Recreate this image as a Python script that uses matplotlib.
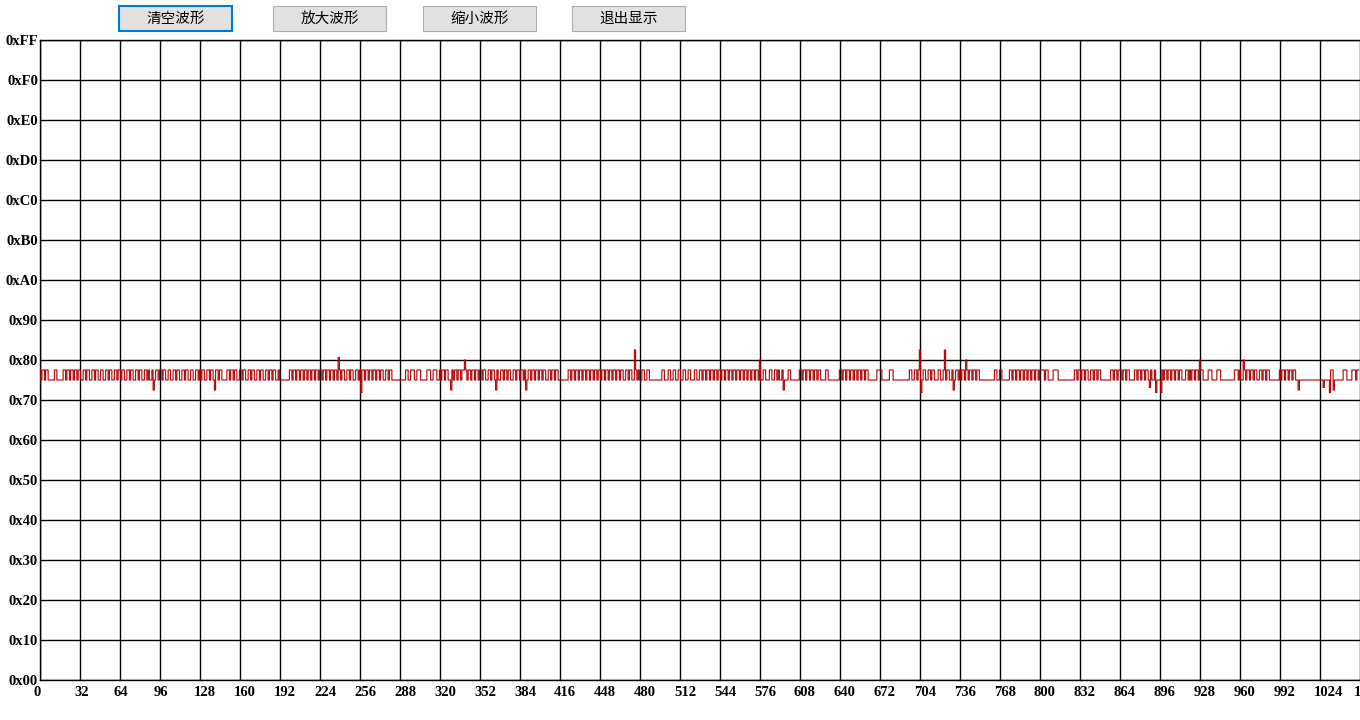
import matplotlib
matplotlib.use("Agg")
import matplotlib.pyplot as plt
import matplotlib.patches as mpatches
from matplotlib.font_manager import FontProperties
from matplotlib.transforms import ScaledTranslation
import numpy as np

plt.rcParams['font.family'] = ['Noto Sans CJK SC', 'DejaVu Sans']

# ---------------- data ----------------
BUTTONS = ["清空波形", "放大波形", "缩小波形", "退出显示"]

X_TICKS = list(range(0, 1057, 32))
X_LABELS = [str(v) for v in X_TICKS]
Y_TICKS = list(range(0, 256, 16)) + [256]
Y_LABELS = ["0x%02X" % v for v in range(0, 256, 16)] + ["0xFF"]

# waveform level codes (byte values)
LEVELS = {"H": 124, "L": 120}

# waveform samples, one string per 32-sample grid cell
WAVE_CELLS = [
    "HLHHLHHL LLLLHHLL LLLHHLHH LHHLHHLH",
    "HLLHHLHH LLHHLHHL LHHLLHHL HHLLHHLH",
    "HLHHLLHH LHHLLHHL HHLLHHLH LLHHLHHL",
    "HHLHHLLH HLLHHLHH LLHHLHHL LHHLLHHL",
    "HLHHLLHH LHHLLHHL HHLLLLHH LHHLHHLL",
    "HHLHHLLH HLHHLLHH LHHLLHHL HHLHHLLH",
    "LLLLLLLL HHLHHLHH LHHLHHLH HLHHLHHL",
    "HHLHHLHH LHHLHHLH HLHHLLHH LHHLLHHL",
    "HLHHLHHL HHLHHLHH LHHLLHHL HHLLLLLL",
    "LLLLLHHL LHHHLLHH HLLLLLHH HLLHHHLL",
    "HLHHLHHL LHHLHHLH HLHHHHLH HLHHLHHL",
    "HHLHHLLH HLHHLHHL LHHLHHLH HLLHHLHH",
    "LHHLHHLH HLHHLHHL HHLHHLLH HLHHLHHL",
    "LLLLLLLH HLHHLHHL HHLHHLHH LHHLHHLH",
    "HLHHLHHL HHLHHLHH LHHLLHHL HHLLHHLH",
    "LLHHLLHH LLLLLLLL LLHHLLLH HLLHHLLH",
    "HLLHHLLH HLLLHHLL HHLHHLHH LHHLHHLH",
    "HLHHLHHL HHLHHLHH LHHLHHLH HLHHLHHL",
    "HLLHHLLL HHLLHHLH LLHHLLLH HLLLLLLL",
    "HHLHHLHH LHHLHHLH HLLLLHHL LLLLLLLL",
    "HHLHHLHH LHHLHHLH HLHHLHHL LLLLLLHH",
    "HHLLLLLL HHHLLLLL LLLLLLLL HHLLHHLH",
    "HLLHHLLH HLHHLLLH HLLHHLHH LLHLLHHL",
    "HLHHLHHL HHLHHLHH LLLLLLLL LLLLHHLL",
    "HHLLLLLL HHLHHLHH LHHLHHLH HLHHLHHL",
    "HHHHLHHL LLLHHHHL LLLLLLLL LLLLHHLH",
    "HLHHLHHL LHHLHHLH HLLLLLLL LHHLHHLH",
    "HHLHHLHH LLLLHHLH HLHHLHHL HHLLHHLL",
    "LHHLHHLH HLHHLHHL HHLLLHHL HLHHLHHL",
    "HHHLLLLH HHLLLLHH HLLLLLLL LLLLHHHL",
    "HLLHHLHH LHHLHHLL HHLHHLHH LLLLLLLL",
    "HLHHLHHL HHLHHLLL LLLLLLLL LLLLLLLL",
    "LLLLLLLL LHHLLLLL LLLHHHLL LLHHHLHH",
]

# isolated spikes: sample index and byte value
SPIKE_IDX = [91, 140, 239, 257, 329, 340, 365, 389, 476, 576, 595, 704, 705,
             724, 731, 741, 888, 893, 897, 928, 963, 1007, 1027, 1032, 1035]
SPIKE_VAL = [116, 116, 129, 115, 116, 128, 116, 116, 132, 128, 116, 132, 115,
             132, 116, 128, 117, 115, 115, 128, 128, 116, 117, 115, 116]

# ---------------- build series ----------------
codes = "".join(c.replace(" ", "") for c in WAVE_CELLS)
values = np.array([LEVELS[c] for c in codes], dtype=float)
for i, v in zip(SPIKE_IDX, SPIKE_VAL):
    if i < len(values):
        values[i] = v
samples = np.arange(len(values))

# ---------------- figure ----------------
W, H = 1360, 720
fig = plt.figure(figsize=(W / 100, H / 100), dpi=100)
fig.patch.set_facecolor("white")

ax = fig.add_axes([40 / W, 40 / H, 1320 / W, 640 / H])
ax.set_xlim(0, 1056)
ax.set_ylim(0, 256)

ax.plot(samples, values, color="#a80000", lw=0.8, drawstyle="steps-mid",
        zorder=3)

ax.set_xticks(X_TICKS)
ax.set_xticklabels(X_LABELS)
ax.set_yticks(Y_TICKS)
ax.set_yticklabels(Y_LABELS)
ax.grid(True, color="black", lw=1.0, zorder=1)
ax.set_axisbelow(True)

ax.spines["right"].set_visible(False)
for s in ["left", "bottom", "top"]:
    ax.spines[s].set_color("black")
    ax.spines[s].set_linewidth(1.0)

ax.tick_params(axis="both", length=0)
ax.tick_params(axis="x", pad=4.5)
ax.tick_params(axis="y", pad=1.5)

tick_fp = FontProperties(family=["Liberation Serif", "DejaVu Serif"],
                         weight="bold", size=10.5)
shift = ScaledTranslation(-6 / 100, 0, fig.dpi_scale_trans)
for lab in ax.get_xticklabels():
    lab.set_fontproperties(tick_fp)
    lab.set_ha("left")
    lab.set_transform(lab.get_transform() + shift)
for lab in ax.get_yticklabels():
    lab.set_fontproperties(tick_fp)

# ---------------- buttons ----------------
btn_x = [119, 273, 423, 572]
btn_w = 113
btn_top, btn_bot = 6, 31
for k, (name, bx) in enumerate(zip(BUTTONS, btn_x)):
    focused = (k == 0)
    rect = mpatches.Rectangle(
        (bx / W, 1 - btn_bot / H), btn_w / W, (btn_bot - btn_top) / H,
        transform=fig.transFigure,
        facecolor="#e1e1e1",
        edgecolor="#0078d7" if focused else "#adadad",
        lw=1.5 if focused else 0.8, zorder=5)
    fig.add_artist(rect)
    fig.text((bx + btn_w / 2) / W, 1 - (btn_top + btn_bot) / 2 / H, name,
             ha="center", va="center", fontsize=10.5, color="black",
             family=["Noto Sans CJK SC", "DejaVu Sans"], zorder=6)

fig.savefig("out.png", dpi=100)
